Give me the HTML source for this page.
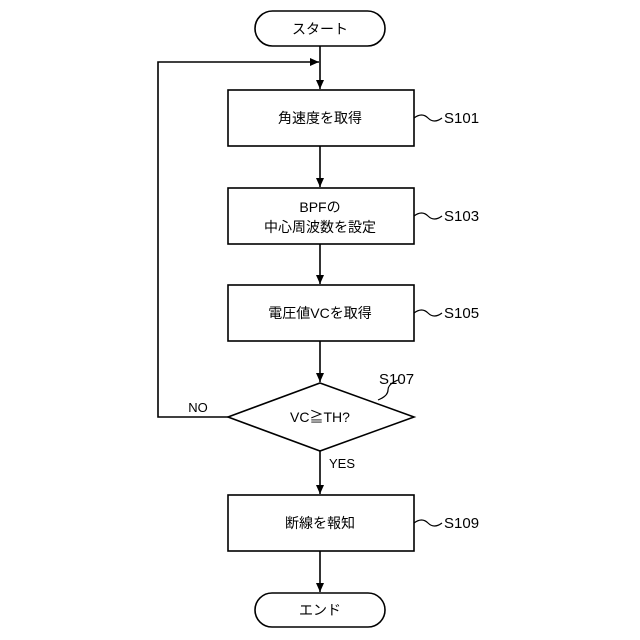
<html><body style="margin:0;background:#fff">
<svg width="640" height="640" xmlns="http://www.w3.org/2000/svg" style="display:block">
<defs><marker id="a" markerWidth="10" markerHeight="10" refX="9" refY="5" orient="auto" markerUnits="userSpaceOnUse"><path d="M0,1 L9,5 L0,9 Z" fill="#000"/></marker></defs>
<g fill="none" stroke="#000" stroke-width="1.6">
<rect x="255" y="11" width="130" height="35" rx="17.5" fill="#fff"/>
<rect x="228" y="90" width="186" height="56"/>
<rect x="228" y="188" width="186" height="56"/>
<rect x="228" y="285" width="186" height="56"/>
<path d="M320,383 L414,417 L320,451 L228,417 Z"/>
<rect x="228" y="495" width="186" height="56"/>
<rect x="255" y="593" width="130" height="34" rx="17" fill="#fff"/>
<line x1="320" y1="46" x2="320" y2="89" marker-end="url(#a)"/>
<line x1="320" y1="146" x2="320" y2="187" marker-end="url(#a)"/>
<line x1="320" y1="244" x2="320" y2="284" marker-end="url(#a)"/>
<line x1="320" y1="341" x2="320" y2="382" marker-end="url(#a)"/>
<line x1="320" y1="451" x2="320" y2="494" marker-end="url(#a)"/>
<line x1="320" y1="551" x2="320" y2="592" marker-end="url(#a)"/>
<polyline points="228,417 158,417 158,62 319,62" marker-end="url(#a)"/>
<g stroke-width="1.2">
<path d="M414,118 q8,-6 14,0 t14,0"/>
<path d="M414,216 q8,-6 14,0 t14,0"/>
<path d="M414,313 q8,-6 14,0 t14,0"/>
<path d="M414,523 q8,-6 14,0 t14,0"/>
<path d="M378,400 q10,-4 10,-10 t10,-10"/>
</g>
</g>
<g font-family="Liberation Sans, Noto Sans CJK JP, sans-serif" font-size="14" text-anchor="middle" fill="#000">
<text x="320" y="34">スタート</text>
<text x="320" y="123">角速度を取得</text>
<text x="320" y="212">BPFの</text>
<text x="320" y="232">中心周波数を設定</text>
<text x="320" y="318">電圧値VCを取得</text>
<text x="320" y="422">VC≧TH?</text>
<text x="320" y="528">断線を報知</text>
<text x="320" y="615">エンド</text>
<g text-anchor="start" font-size="15">
<text x="444" y="123">S101</text>
<text x="444" y="221">S103</text>
<text x="444" y="318">S105</text>
<text x="379" y="384">S107</text>
<text x="444" y="528">S109</text>
</g>
<text x="198" y="412" font-size="13">NO</text>
<text x="342" y="468" font-size="13">YES</text>
</g>
</svg>
</body></html>
